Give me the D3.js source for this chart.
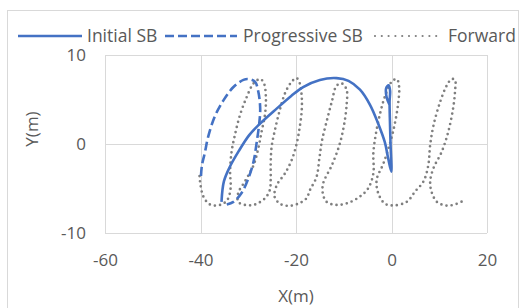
<!DOCTYPE html>
<html>
<head>
<meta charset="utf-8">
<script src="https://cdn.jsdelivr.net/npm/d3@7"></script>
<style>
  body { margin: 0; background: #fff; }
  text { font-family: "Open Sans", sans-serif; fill: #595959; }
</style>
</head>
<body>
<svg id="chart" width="523" height="308"></svg>
<script>
// values, [x, y] in metres
const seriesNames = ["Initial SB", "Progressive SB", "Forward"];
const xTicks = [-60, -40, -20, 0, 20];
const yTicks = [-10, 0, 10];

const initialSB = [
  [-0.4, 4.4], [-1.0, 5.2], [-1.1, 6.3], [-0.6, 6.6], [-0.3, 6.0], [-0.4, 4.8],
  [-0.35, 3.0], [-0.2, 0], [-0.05, -3.1], [-0.7, -1.6], [-1.4, 0.2], [-2.8, 2.3],
  [-4.5, 4.4], [-6.6, 6.1], [-9.0, 7.1], [-11.5, 7.4], [-15.0, 7.2], [-18.5, 6.4],
  [-21.0, 5.4], [-24.0, 4.0], [-27.7, 2.2], [-29.8, 1.0], [-32.0, -0.8],
  [-33.8, -2.5], [-35.1, -4.2], [-35.6, -6.5]
];

const progressiveSB = [
  [-39.9, -3.6], [-39.7, -2.4], [-39.1, -1.0], [-38.4, 0.8], [-37.0, 3.1],
  [-35.2, 4.9], [-33.1, 6.4], [-31.0, 7.2], [-30.0, 7.3], [-28.6, 7.0],
  [-27.9, 5.9], [-27.5, 4.0], [-27.7, 2.3], [-28.2, 0.3], [-28.9, -2.0],
  [-30.0, -3.9], [-31.4, -5.5], [-33.1, -6.5], [-34.5, -6.8]
];

const forward = [
  [-40.2, -3.6], [-40.1, -4.2], [-39.4, -5.9], [-38.0, -6.8], [-35.9, -6.85],
  [-34.4, -6.3], [-33.7, -5.0], [-33.8, -3.1], [-33.5, -0.9], [-32.8, 1.0],
  [-31.7, 3.3], [-30.3, 5.3], [-28.9, 6.8], [-27.5, 7.3], [-26.7, 6.8],
  [-26.3, 5.1], [-26.5, 3.3], [-27.2, 1.4], [-27.9, -0.5], [-28.9, -2.4],
  [-30.7, -4.2], [-32.1, -5.5], [-32.1, -6.5], [-30.7, -6.85], [-28.6, -6.8],
  [-26.5, -6.1], [-25.5, -5.2], [-25.3, -4.0], [-25.3, -2.2], [-25.1, -0.3],
  [-24.4, 1.6], [-23.4, 3.8], [-22.3, 5.7], [-20.9, 7.0], [-19.85, 7.4],
  [-19.2, 6.8], [-18.8, 5.3], [-18.8, 3.8], [-19.2, 1.95], [-19.85, 0.07],
  [-20.9, -1.8], [-22.3, -3.3], [-24.0, -4.6], [-24.5, -5.9], [-23.4, -6.7],
  [-21.6, -6.95], [-19.5, -6.7], [-17.8, -6.1], [-17.1, -5.2], [-15.7, -3.7],
  [-15.1, -1.6], [-14.6, 0.26], [-13.6, 2.5], [-12.5, 4.75], [-11.5, 6.55],
  [-10.4, 6.8], [-9.4, 6.1], [-9.4, 4.4], [-9.95, 2.1], [-10.9, -0.1],
  [-12.5, -2.4], [-14.3, -4.4], [-14.4, -5.5], [-13.6, -6.5], [-11.5, -6.85],
  [-9.0, -6.6], [-6.6, -5.9], [-4.9, -5.0], [-3.8, -3.3], [-3.8, -1.0],
  [-3.25, 1.2], [-2.4, 3.4], [-1.4, 5.3], [0.04, 7.0], [1.1, 7.3],
  [1.6, 6.4], [1.4, 4.6], [0.7, 2.3], [-0.3, 0.1], [-1.7, -2.2],
  [-3.1, -4.0], [-2.8, -5.5], [-1.4, -6.7], [0.4, -6.9], [3.2, -6.5],
  [5.0, -5.3], [6.7, -4.2], [7.7, -2.4], [8.1, -0.1], [8.8, 2.1],
  [10.2, 4.75], [11.6, 6.6], [12.6, 7.3], [13.3, 7.2], [13.3, 5.9],
  [12.9, 4.0], [11.9, 1.4], [10.5, -0.9], [8.8, -2.7], [8.1, -4.2],
  [8.4, -5.4], [9.5, -6.5], [11.2, -6.9], [12.9, -6.85], [15.4, -6.3]
];

const svg = d3.select("#chart");
const blue = "#4472c4";
const grid = "#d9d9d9";

// chart frame
svg.append("rect")
  .attr("x", 7.5).attr("y", 10.5)
  .attr("width", 511).attr("height", 310)
  .attr("fill", "none").attr("stroke", grid);

const x = d3.scaleLinear().domain([-60, 20]).range([105, 487]);
const y = d3.scaleLinear().domain([-10, 10]).range([233, 55]);

// gridlines
svg.append("g").selectAll("line").data(xTicks).join("line")
  .attr("x1", d => Math.round(x(d)) + 0.5).attr("x2", d => Math.round(x(d)) + 0.5)
  .attr("y1", y(10)).attr("y2", y(-10))
  .attr("stroke", grid);
svg.append("g").selectAll("line").data(yTicks).join("line")
  .attr("x1", x(-60)).attr("x2", x(20))
  .attr("y1", d => Math.round(y(d)) + 0.5).attr("y2", d => Math.round(y(d)) + 0.5)
  .attr("stroke", grid);

// axes (labels only), plain hyphen for negatives like the original
const fmt = d => String(d);
const yAxis = svg.append("g")
  .attr("transform", `translate(${x(-60)},0)`)
  .call(d3.axisLeft(y).tickValues(yTicks).tickFormat(fmt).tickSize(0).tickPadding(19));
const xAxis = svg.append("g")
  .attr("transform", `translate(0,${y(-10)})`)
  .call(d3.axisBottom(x).tickValues(xTicks).tickFormat(fmt).tickSize(0).tickPadding(21));
[yAxis, xAxis].forEach(a => {
  a.select(".domain").remove();
  a.selectAll("text").style("font-size", "17px").attr("fill", "#595959")
    .style("font-family", "'Open Sans', sans-serif");
});

svg.append("text")
  .attr("x", 296).attr("y", 302)
  .attr("text-anchor", "middle").style("font-size", "17px")
  .text("X(m)");
svg.append("text")
  .attr("transform", "translate(38,129) rotate(-90)")
  .attr("text-anchor", "middle").style("font-size", "17px")
  .text("Y(m)");

// series
const line = d3.line()
  .x(d => x(d[0])).y(d => y(d[1]))
  .curve(d3.curveCatmullRom.alpha(0.5));

svg.append("path").datum(forward)
  .attr("d", line).attr("fill", "none")
  .attr("stroke", "#7f7f7f").attr("stroke-width", 2.7)
  .attr("stroke-linecap", "round").attr("stroke-dasharray", "0 5.2");

svg.append("path").datum(progressiveSB)
  .attr("d", line).attr("fill", "none")
  .attr("stroke", blue).attr("stroke-width", 2.6)
  .attr("stroke-dasharray", "9 4");

svg.append("path").datum(initialSB)
  .attr("d", line).attr("fill", "none")
  .attr("stroke", blue).attr("stroke-width", 2.6)
  .attr("stroke-linejoin", "round");

// legend
const legend = [
  { x0: 18, x1: 82, tx: 87, dash: null, color: blue },
  { x0: 165, x1: 237, tx: 243, dash: "9 4", color: blue },
  { x0: 375, x1: 443, tx: 448, dash: "0 6.8", color: "#7f7f7f" }
];
const lg = svg.append("g").selectAll("g").data(legend).join("g");
lg.append("line")
  .attr("x1", d => d.x0).attr("x2", d => d.x1)
  .attr("y1", 36).attr("y2", 36)
  .attr("stroke", d => d.color)
  .attr("stroke-width", d => d.dash === "0 6.8" ? 2.2 : 2.6)
  .attr("stroke-linecap", d => d.dash === "0 6.8" ? "round" : "butt")
  .attr("stroke-dasharray", d => d.dash);
lg.append("text")
  .attr("x", d => d.tx).attr("y", 36).attr("dy", "0.35em")
  .style("font-size", "17.5px")
  .text((d, i) => seriesNames[i]);
</script>
</body>
</html>
